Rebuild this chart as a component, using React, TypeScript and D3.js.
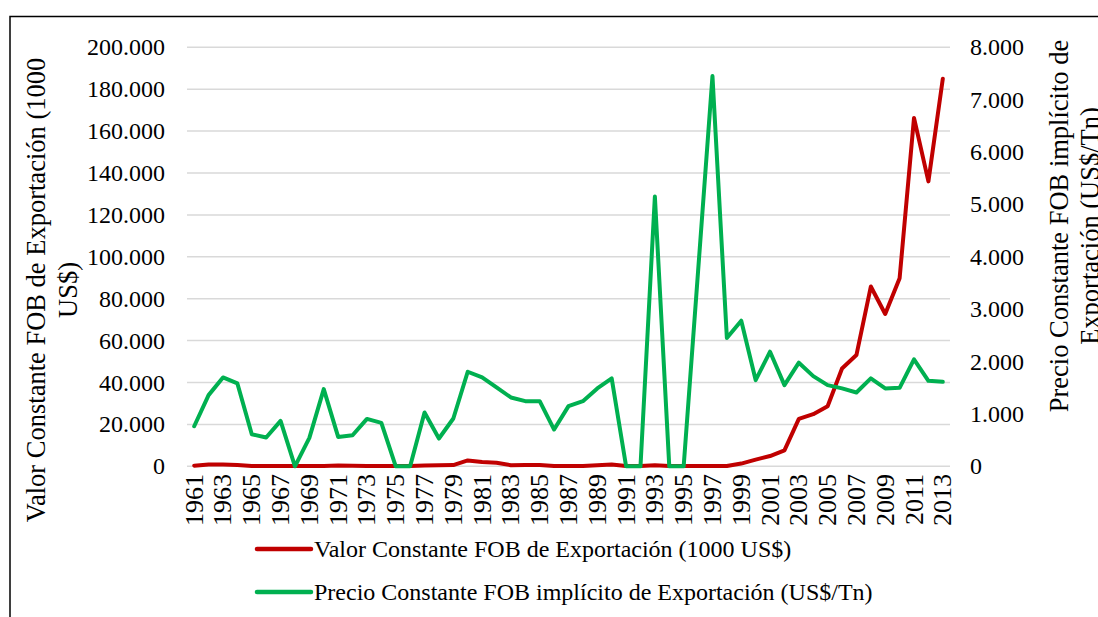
import React from "react";
import * as d3 from "d3";

const years: number[] = [
  1961, 1962, 1963, 1964, 1965, 1966, 1967, 1968, 1969, 1970,
  1971, 1972, 1973, 1974, 1975, 1976, 1977, 1978, 1979, 1980,
  1981, 1982, 1983, 1984, 1985, 1986, 1987, 1988, 1989, 1990,
  1991, 1992, 1993, 1994, 1995, 1996, 1997, 1998, 1999, 2000,
  2001, 2002, 2003, 2004, 2005, 2006, 2007, 2008, 2009, 2010,
  2011, 2012, 2013,
];

// Valor Constante FOB de Exportación (1000 US$) — left axis
const valorFOB: number[] = [
  300, 900, 800, 600, 200, 100, 100, 100, 100, 200,
  400, 300, 100, 200, 100, 200, 400, 500, 600, 2800,
  2000, 1700, 500, 600, 600, 200, 200, 200, 500, 900,
  100, 100, 500, 100, 100, 100, 100, 100, 1300, 3200,
  4900, 7600, 22600, 24900, 28700, 46700, 53100, 85800, 72700, 89800,
  166300, 136000, 185000,
];

// Precio Constante FOB implícito de Exportación (US$/Tn) — right axis
const precioFOB: number[] = [
  765, 1359, 1697, 1582, 612, 549, 867, 0, 542, 1474,
  561, 593, 905, 829, 0, 0, 1027, 530, 912, 1805,
  1697, 1506, 1314, 1244, 1244, 702, 1148, 1244, 1487, 1678,
  0, 0, 5150, 0, 0, 3720, 7450, 2450, 2780, 1646,
  2188, 1550, 1978, 1722, 1550, 1487, 1410, 1678, 1487, 1499,
  2041, 1633, 1614,
];

const leftTicks: number[] = [0, 20000, 40000, 60000, 80000, 100000, 120000, 140000, 160000, 180000, 200000];
const rightTicks: number[] = [0, 1000, 2000, 3000, 4000, 5000, 6000, 7000, 8000];
const xTickYears: number[] = years.filter((y) => (y - 1961) % 2 === 0);

const seriesNames: string[] = [
  "Valor Constante FOB de Exportación (1000 US$)",
  "Precio Constante FOB implícito de Exportación (US$/Tn)",
];
const leftTitle: string[] = ["Valor Constante FOB de Exportación (1000", "US$)"];
const rightTitle: string[] = ["Precio Constante FOB implícito de", "Exportación (US$/Tn)"];

const RED = "#C00000";
const GREEN = "#00B050";
const FONT = "'Liberation Serif', 'Times New Roman', serif";

const locale = d3.formatLocale({ decimal: ",", thousands: ".", grouping: [3], currency: ["$", ""] });
const fmt = locale.format(",d");

export default function App() {
  const W = 1098;
  const H = 617;
  const plotLeft = 187;
  const plotRight = 950;
  const yBottom = 466.3;
  const yTop = 47.3;

  const x = d3.scaleBand<number>().domain(years).range([plotLeft, plotRight]);
  const cx = (yr: number) => (x(yr) as number) + x.bandwidth() / 2;
  const yL = d3.scaleLinear().domain([0, 200000]).range([yBottom, yTop]);
  const yR = d3.scaleLinear().domain([0, 8000]).range([yBottom, yTop]);

  const lineL = d3
    .line<number>()
    .x((_, i) => cx(years[i]))
    .y((d) => yL(d));
  const lineR = d3
    .line<number>()
    .x((_, i) => cx(years[i]))
    .y((d) => yR(d));

  return (
    <div style={{ position: "absolute", left: 0, top: 0 }}>
      <svg width={W} height={H} style={{ display: "block", background: "#fff" }} fontFamily={FONT}>
        <rect x={0} y={0} width={W} height={H} fill="#fff" />
        {/* frame */}
        <rect x={10} y={16.5} width={W + 20} height={H + 20} fill="none" stroke="#000" strokeWidth={1.5} />

        {/* gridlines */}
        {leftTicks.map((t) => (
          <line key={"g" + t} x1={plotLeft} x2={plotRight} y1={yL(t)} y2={yL(t)} stroke="#D9D9D9" strokeWidth={1.5} />
        ))}

        {/* left tick labels */}
        {leftTicks.map((t) => (
          <text key={"l" + t} x={165} y={yL(t)} fontSize={24} textAnchor="end" dominantBaseline="central" fill="#000">
            {fmt(t)}
          </text>
        ))}

        {/* right tick labels */}
        {rightTicks.map((t) => (
          <text key={"r" + t} x={970} y={yR(t)} fontSize={24} textAnchor="start" dominantBaseline="central" fill="#000">
            {fmt(t)}
          </text>
        ))}

        {/* x tick labels */}
        {xTickYears.map((yr) => (
          <text
            key={"x" + yr}
            transform={`translate(${cx(yr)},${474}) rotate(-90)`}
            fontSize={26}
            textAnchor="end"
            dominantBaseline="central"
            fill="#000"
          >
            {yr}
          </text>
        ))}

        {/* series */}
        <path d={lineL(valorFOB) || ""} fill="none" stroke={RED} strokeWidth={4} strokeLinejoin="round" strokeLinecap="round" />
        <path d={lineR(precioFOB) || ""} fill="none" stroke={GREEN} strokeWidth={4} strokeLinejoin="round" strokeLinecap="round" />

        {/* axis titles */}
        <text transform="translate(45,290) rotate(-90)" fontSize={26.5} textAnchor="middle" fill="#000">
          {leftTitle[0]}
        </text>
        <text transform="translate(77,290) rotate(-90)" fontSize={26.5} textAnchor="middle" fill="#000">
          {leftTitle[1]}
        </text>
        <text transform="translate(1068,226) rotate(-90)" fontSize={26.5} textAnchor="middle" fill="#000">
          {rightTitle[0]}
        </text>
        <text transform="translate(1099,226) rotate(-90)" fontSize={26.5} textAnchor="middle" fill="#000">
          {rightTitle[1]}
        </text>

        {/* legend */}
        {seriesNames.map((name, i) => {
          const ly = 549 + i * 43;
          return (
            <g key={name}>
              <line x1={257} x2={311} y1={ly} y2={ly} stroke={i === 0 ? RED : GREEN} strokeWidth={4.5} strokeLinecap="round" />
              <text x={314} y={ly} fontSize={24} dominantBaseline="central" fill="#000">
                {name}
              </text>
            </g>
          );
        })}
      </svg>
    </div>
  );
}
